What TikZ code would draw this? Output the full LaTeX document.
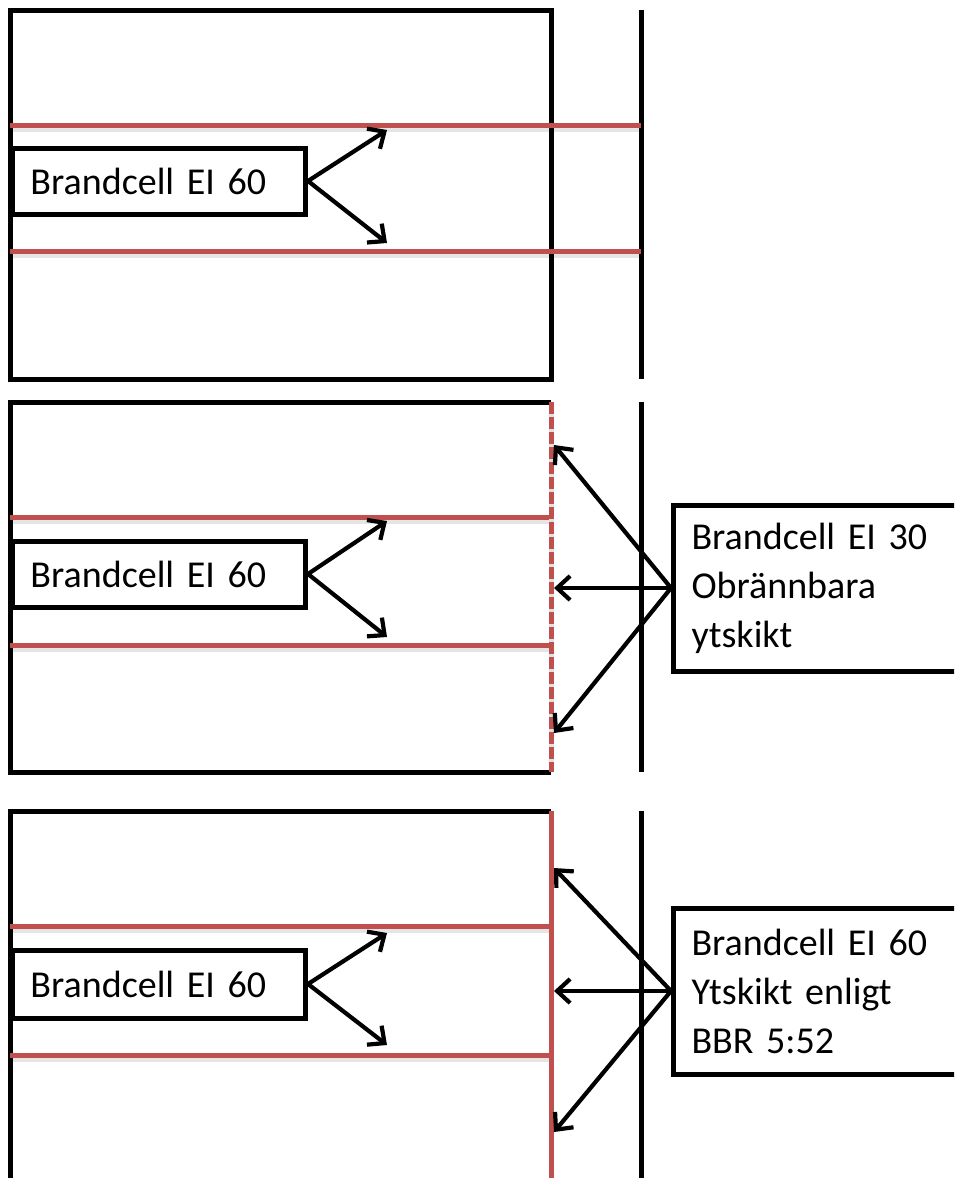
\documentclass[tikz,border=0pt]{standalone}
\usepackage{fontspec}
\setmainfont{Carlito}
\usetikzlibrary{arrows.meta}
\definecolor{redline}{HTML}{C0504D}
\begin{document}
\begin{tikzpicture}[x=1pt,y=-1pt,
  wall/.style={line width=5pt, black},
  redwall/.style={line width=5pt, redline},
  shadowline/.style={line width=5pt, black!10},
  lbl/.style={draw, line width=5pt, fill=white, font=\fontsize{38}{49}\selectfont, inner xsep=18pt, inner ysep=0pt, align=left, anchor=west},
  arr/.style={line width=4.2pt, -{Straight Barb[length=13pt,width=24pt]}}
]
\useasboundingbox (0,0) rectangle (954,1178);
\clip (0,0) rectangle (954,1178);
\fill[white] (0,0) rectangle (954,1178);

% ---------- shadows of the red lines ----------
\draw[shadowline] (10,129) -- (641,129);
\draw[shadowline] (10,255) -- (641,255);
\draw[shadowline] (10,521) -- (551,521);
\draw[shadowline] (10,649) -- (551,649);
\draw[shadowline] (10,930) -- (551,930);
\draw[shadowline] (10,1059) -- (551,1059);

% ---------- Panel 1 ----------
\draw[wall] (10,10) rectangle (551,379);
\draw[wall] (641,10) -- (641,379);
\draw[redwall] (10,125) -- (641,125);
\draw[redwall] (10,251) -- (641,251);
\node[lbl, minimum width=293pt, minimum height=66pt, text width=257pt] (n1) at (10,181) {Brandcell EI 60};
\coordinate (t1) at (387,130);
\coordinate (b1) at (387,243);
\draw[arr] (n1.east) -- (t1);
\draw[arr] (n1.east) -- (b1);

% ---------- Panel 2 ----------
\draw[wall] (551,402) -- (10,402) -- (10,772) -- (551,772);
\draw[wall] (641,402) -- (641,772);
\draw[redwall] (10,517) -- (551,517);
\draw[redwall] (10,645) -- (551,645);
\draw[line width=5pt, black!12] (551,402) -- (551,772);
\draw[redwall, dash pattern=on 12pt off 3pt] (551,402) -- (551,772);
\node[lbl, minimum width=293pt, minimum height=66pt, text width=257pt] (n2) at (10,574) {Brandcell EI 60};
\coordinate (t2) at (387,521);
\coordinate (b2) at (387,637);
\draw[arr] (n2.east) -- (t2);
\draw[arr] (n2.east) -- (b2);
\node[lbl, minimum width=310pt, minimum height=166pt, text width=274pt] (r2) at (671,588) {Brandcell EI 30\\Obrännbara\\ytskikt};
\coordinate (u2) at (554,445);
\coordinate (m2) at (554,588);
\coordinate (d2) at (554,733);
\draw[arr] (r2.west) -- (u2);
\draw[arr] (r2.west) -- (m2);
\draw[arr] (r2.west) -- (d2);

% ---------- Panel 3 ----------
\draw[wall] (551,811) -- (10,811) -- (10,1190);
\draw[wall] (641,811) -- (641,1190);
\draw[redwall] (10,926) -- (551,926);
\draw[redwall] (10,1055) -- (551,1055);
\draw[redwall] (551,811) -- (551,1190);
\node[lbl, minimum width=293pt, minimum height=68pt, text width=257pt] (n3) at (10,984) {Brandcell EI 60};
\coordinate (t3) at (387,933);
\coordinate (b3) at (387,1045);
\draw[arr] (n3.east) -- (t3);
\draw[arr] (n3.east) -- (b3);
\node[lbl, minimum width=310pt, minimum height=166pt, text width=274pt] (r3) at (671,991) {Brandcell EI 60\\Ytskikt enligt\\BBR 5:52};
\coordinate (u3) at (554,868);
\coordinate (m3) at (554,991);
\coordinate (d3) at (554,1132);
\draw[arr] (r3.west) -- (u3);
\draw[arr] (r3.west) -- (m3);
\draw[arr] (r3.west) -- (d3);
\end{tikzpicture}
\end{document}
